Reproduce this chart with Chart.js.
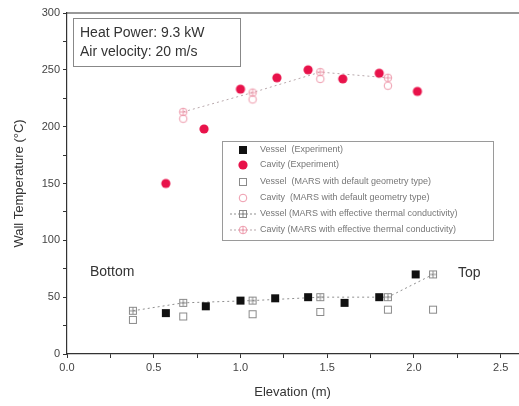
<!DOCTYPE html>
<html>
<head>
<meta charset="utf-8">
<script src="https://cdn.jsdelivr.net/npm/chart.js@4/dist/chart.umd.min.js"></script>
<style>
  html, body { margin: 0; padding: 0; background: #fff; overflow: hidden; }
  #wrap { width: 519px; height: 406px; overflow: hidden; }
</style>
</head>
<body>
<div id="wrap"><canvas id="myChart" width="523" height="406"></canvas></div>
<script>
// values
const vesselExpX = [0.57, 0.80, 1.00, 1.20, 1.39, 1.60, 1.80, 2.01];
const vesselExpY = [36, 42, 47, 49, 50, 45, 50, 70];
const cavityExpX = [0.57, 0.79, 1.00, 1.21, 1.39, 1.59, 1.80, 2.02];
const cavityExpY = [150, 198, 233, 243, 250, 242, 247, 231];
const marsX = [0.38, 0.67, 1.07, 1.46, 1.85, 2.11];
const vesselDefY = [30, 33, 35, 37, 39, 39];
const vesselEffY = [38, 45, 47, 50, 50, 70];
const cavityMarsX = [0.67, 1.07, 1.46, 1.85];
const cavityDefY = [207, 224, 242, 236];
const cavityEffY = [213, 230, 248, 243];

const seriesLabels = [
  "Vessel  (Experiment)",
  "Cavity (Experiment)",
  "Vessel  (MARS with default geometry type)",
  "Cavity  (MARS with default geometry type)",
  "Vessel (MARS with effective thermal conductivity)",
  "Cavity (MARS with effective thermal conductivity)",
];
const xTicks = [0, 0.25, 0.5, 0.75, 1, 1.25, 1.5, 1.75, 2, 2.25, 2.5];
const yTicks = [0, 25, 50, 75, 100, 125, 150, 175, 200, 225, 250, 275, 300];

function pts(xs, ys) {
  return xs.map((x, i) => ({ x: x, y: ys[i] }));
}

// little canvases used as point symbols
function symbol(kind, color) {
  const c = document.createElement("canvas");
  c.width = 12;
  c.height = 12;
  const g = c.getContext("2d");
  g.strokeStyle = color;
  g.fillStyle = color;
  g.lineWidth = 1;
  if (kind == "fsquare") {
    g.fillRect(2, 2, 8, 8);
  } else if (kind == "fcircle") {
    g.beginPath();
    g.arc(6, 6, 4.6, 0, Math.PI * 2);
    g.fill();
  } else if (kind == "osquare" || kind == "xsquare") {
    g.strokeRect(2.5, 2.5, 7, 7);
    if (kind == "xsquare") {
      g.beginPath();
      g.moveTo(2.5, 6); g.lineTo(9.5, 6);
      g.moveTo(6, 2.5); g.lineTo(6, 9.5);
      g.stroke();
    }
  } else {
    g.beginPath();
    g.arc(6, 6, 3.8, 0, Math.PI * 2);
    g.stroke();
    if (kind == "xcircle") {
      g.beginPath();
      g.moveTo(2.2, 6); g.lineTo(9.8, 6);
      g.moveTo(6, 2.2); g.lineTo(6, 9.8);
      g.stroke();
    }
  }
  return c;
}

const symVesselExp = symbol("fsquare", "#111111");
const symCavityExp = symbol("fcircle", "#e8124a");
const symVesselDef = symbol("osquare", "#8a8a8a");
const symCavityDef = symbol("ocircle", "#ee9aac");
const symVesselEff = symbol("xsquare", "#8a8a8a");
const symCavityEff = symbol("xcircle", "#ee9aac");

const annotations = {
  id: "annotations",
  afterDraw(chart) {
    const ctx = chart.ctx;
    const a = chart.chartArea;
    ctx.save();
    // top frame line
    ctx.strokeStyle = "#333";
    ctx.lineWidth = 1.2;
    ctx.beginPath();
    ctx.moveTo(a.left, a.top);
    ctx.lineTo(chart.width, a.top);
    ctx.stroke();

    // info box
    ctx.strokeStyle = "#888";
    ctx.lineWidth = 1;
    ctx.strokeRect(73.5, 18.5, 167, 48);
    ctx.fillStyle = "#333";
    ctx.font = "14px 'Liberation Sans', Arial, sans-serif";
    ctx.textBaseline = "middle";
    ctx.textAlign = "left";
    ctx.fillText("Heat Power: 9.3 kW", 80, 33);
    ctx.fillText("Air velocity: 20 m/s", 80, 52);

    ctx.font = "14px 'Liberation Sans', Arial, sans-serif";
    ctx.fillText("Bottom", 90, 272);
    ctx.fillText("Top", 458, 273);

    // legend box
    ctx.fillStyle = "#fff";
    ctx.fillRect(222, 141, 271, 99);
    ctx.strokeStyle = "#9a9a9a";
    ctx.strokeRect(222.5, 141.5, 271, 99);
    const rows = [150, 165, 182, 198, 214, 230];
    const syms = [symVesselExp, symCavityExp, symVesselDef, symCavityDef, symVesselEff, symCavityEff];
    ctx.font = "9px 'Liberation Sans', Arial, sans-serif";
    chart.data.datasets.forEach((ds, i) => {
      const y = rows[i];
      if (ds.showLine) {
        ctx.strokeStyle = ds.borderColor;
        ctx.setLineDash([2, 2]);
        ctx.beginPath();
        ctx.moveTo(230, y);
        ctx.lineTo(256, y);
        ctx.stroke();
        ctx.setLineDash([]);
      }
      ctx.drawImage(syms[i], 237, y - 6);
      ctx.fillStyle = "#777";
      ctx.fillText(ds.label, 260, y);
    });
    ctx.restore();
  },
};

let myChart = document.getElementById("myChart").getContext("2d");

let scatterChart = new Chart(myChart, {
  type: "scatter",
  data: {
    datasets: [
      {
        label: seriesLabels[0],
        data: pts(vesselExpX, vesselExpY),
        pointStyle: symVesselExp,
        showLine: false,
      },
      {
        label: seriesLabels[1],
        data: pts(cavityExpX, cavityExpY),
        pointStyle: symCavityExp,
        showLine: false,
      },
      {
        label: seriesLabels[2],
        data: pts(marsX, vesselDefY),
        pointStyle: symVesselDef,
        showLine: false,
      },
      {
        label: seriesLabels[3],
        data: pts(cavityMarsX, cavityDefY),
        pointStyle: symCavityDef,
        showLine: false,
      },
      {
        label: seriesLabels[4],
        data: pts(marsX, vesselEffY),
        pointStyle: symVesselEff,
        showLine: true,
        borderColor: "#8f8f8f",
        borderWidth: 1,
        borderDash: [2, 3],
      },
      {
        label: seriesLabels[5],
        data: pts(cavityMarsX, cavityEffY),
        pointStyle: symCavityEff,
        showLine: true,
        borderColor: "#b8a8ac",
        borderWidth: 1,
        borderDash: [2, 3],
      },
    ],
  },
  options: {
    responsive: false,
    animation: false,
    layout: { padding: { top: 13, right: 0, left: 0, bottom: 0 } },
    plugins: {
      legend: { display: false },
      tooltip: { enabled: false },
    },
    scales: {
      x: {
        type: "linear",
        min: 0,
        max: 2.6,
        afterBuildTicks: (s) => { s.ticks = xTicks.map((v) => ({ value: v })); },
        afterFit: (s) => { s.height = 52; },
        grid: { drawOnChartArea: false, color: "#333", tickLength: 4 },
        border: { color: "#333", width: 1.2 },
        ticks: {
          autoSkip: false,
          maxRotation: 0,
          color: "#444",
          padding: 3,
          font: { family: "'Liberation Sans', Arial, sans-serif", size: 11 },
          callback: (v) => (Math.abs(v * 2 - Math.round(v * 2)) < 1e-6 ? v.toFixed(1) : ""),
        },
        title: {
          display: true,
          text: "Elevation (m)",
          color: "#333",
          font: { family: "'Liberation Sans', Arial, sans-serif", size: 13 },
          padding: { top: 0, bottom: 6 },
        },
      },
      y: {
        min: 0,
        max: 300,
        afterBuildTicks: (s) => { s.ticks = yTicks.map((v) => ({ value: v })); },
        afterFit: (s) => { s.width = 67; },
        grid: { drawOnChartArea: false, color: "#333", tickLength: 4 },
        border: { color: "#333", width: 1.2 },
        ticks: {
          autoSkip: false,
          color: "#444",
          padding: 3,
          font: { family: "'Liberation Sans', Arial, sans-serif", size: 11 },
          callback: (v) => (v % 50 == 0 ? String(v) : ""),
        },
        title: {
          display: true,
          text: "Wall Temperature (°C)",
          color: "#333",
          font: { family: "'Liberation Sans', Arial, sans-serif", size: 13 },
          padding: { top: 12, bottom: 0 },
        },
      },
    },
  },
  plugins: [annotations],
});
</script>
</body>
</html>
